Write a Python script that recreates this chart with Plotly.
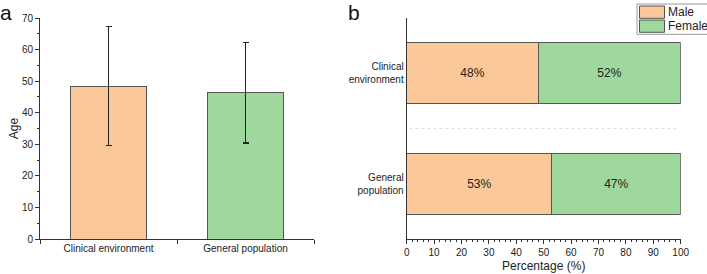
import plotly.graph_objects as go

# ---- data ----
groups = ["Clinical environment", "General population"]
age_mean = [48.4, 46.3]
age_sd = [18.8, 15.9]

groups_b = ["General<br>population", "Clinical<br>environment"]  # bottom to top
male_pct = [53, 48]
female_pct = [47, 52]
series_names = ["Male", "Female"]

age_ticks = list(range(0, 71, 10))
pct_ticks = list(range(0, 101, 10))

# ---- style ----
ORANGE = "#FAC899"
GREEN = "#9FD89D"
EDGE = "#555555"
FONT = "Arial, Liberation Sans, sans-serif"
TXT = "#222222"

fig = go.Figure()

# Panel a
fig.add_trace(go.Bar(
    x=[0, 1], y=age_mean, width=0.55,
    marker=dict(color=[ORANGE, GREEN], line=dict(color=EDGE, width=1)),
    error_y=dict(type="data", array=age_sd, visible=True, color="#222222",
                 thickness=1.3, width=3),
    xaxis="x", yaxis="y", showlegend=False,
))

# Panel b
fig.add_trace(go.Bar(
    y=[0, 1], x=male_pct, orientation="h", width=0.55, name=series_names[0],
    marker=dict(color=ORANGE, line=dict(color=EDGE, width=1)),
    text=[f"{v}%" for v in male_pct], textposition="inside", insidetextanchor="middle",
    textfont=dict(size=12, color=TXT, family=FONT),
    xaxis="x2", yaxis="y2", showlegend=False,
))
fig.add_trace(go.Bar(
    y=[0, 1], x=female_pct, orientation="h", width=0.55, name=series_names[1],
    marker=dict(color=GREEN, line=dict(color=EDGE, width=1)),
    text=[f"{v}%" for v in female_pct], textposition="inside", insidetextanchor="middle",
    textfont=dict(size=12, color=TXT, family=FONT),
    xaxis="x2", yaxis="y2", showlegend=False,
))

ydom = [35 / 274, 256 / 274]
axcommon = dict(showline=True, linecolor="#333333", linewidth=1, showgrid=False,
                zeroline=False, tickfont=dict(size=10, color=TXT, family=FONT),
                tickcolor="#333333", automargin=False)

fig.update_layout(
    width=707, height=274, margin=dict(l=0, r=0, t=0, b=0, autoexpand=False),
    paper_bgcolor="white", plot_bgcolor="white", barmode="stack",
    font=dict(family=FONT, color=TXT),
    xaxis=dict(domain=[40 / 707, 314 / 707], range=[-0.5, 1.5],
               tickvals=[0, 1], ticktext=groups, ticks="", ticklen=0,
               minor=dict(ticks="outside", tick0=0.5, dtick=1, ticklen=4,
                          tickcolor="#333333"),
               anchor="y", **axcommon),
    yaxis=dict(domain=ydom, range=[0, 70], tickvals=age_ticks, ticks="outside",
               ticklen=4, minor=dict(ticks="outside", dtick=5, ticklen=2,
                                     tickcolor="#333333"),
               title=dict(text="Age", font=dict(size=12, color=TXT), standoff=0),
               anchor="x", **axcommon),
    xaxis2=dict(domain=[406.7 / 707, 680.7 / 707], range=[0, 100],
                tickvals=pct_ticks, ticks="outside", ticklen=4,
                minor=dict(ticks="outside", dtick=2, ticklen=2, tickcolor="#333333"),
                title=dict(text="Percentage (%)", font=dict(size=12, color=TXT),
                           standoff=4),
                anchor="y2", **axcommon),
    yaxis2=dict(domain=ydom, range=[-0.5, 1.5], tickvals=[0, 1],
                ticktext=groups_b, ticks="", ticklen=0,
                anchor="x2", **axcommon),
)

# dotted separator between categories
fig.add_shape(type="line", xref="x2", yref="y2", x0=1, x1=99, y0=0.5, y1=0.5,
              line=dict(color="#DDDDDD", width=1, dash="dot"), layer="below")

# panel labels
fig.add_annotation(text="a", xref="paper", yref="paper", x=-1 / 707, y=1,
                   xanchor="left", yanchor="top", showarrow=False, borderpad=0,
                   font=dict(size=21, color="#111111", family=FONT))
fig.add_annotation(text="b", xref="paper", yref="paper", x=347 / 707, y=1,
                   xanchor="left", yanchor="top", showarrow=False, borderpad=0,
                   font=dict(size=21, color="#111111", family=FONT))

# manual legend
def px_x(v):
    return v / 707

def px_y(v):
    return 1 - v / 274

fig.add_shape(type="rect", xref="paper", yref="paper",
              x0=px_x(637), x1=px_x(712), y0=px_y(34.3), y1=px_y(4),
              line=dict(color="#999999", width=1), fillcolor="white")
for i, (nm, col) in enumerate(zip(series_names, [ORANGE, GREEN])):
    top = 6 + i * 14
    fig.add_shape(type="rect", xref="paper", yref="paper",
                  x0=px_x(639.5), x1=px_x(664.5), y0=px_y(top + 12.3), y1=px_y(top),
                  line=dict(color=EDGE, width=1), fillcolor=col)
    fig.add_annotation(text=nm, xref="paper", yref="paper", x=px_x(667),
                       y=px_y(top + 6.2), xanchor="left", yanchor="middle",
                       showarrow=False, borderpad=0,
                       font=dict(size=12, color=TXT, family=FONT))

fig.write_html("out.html", config={"displayModeBar": False},
               post_script="document.body.style.margin='0';document.body.style.overflow='hidden';")
